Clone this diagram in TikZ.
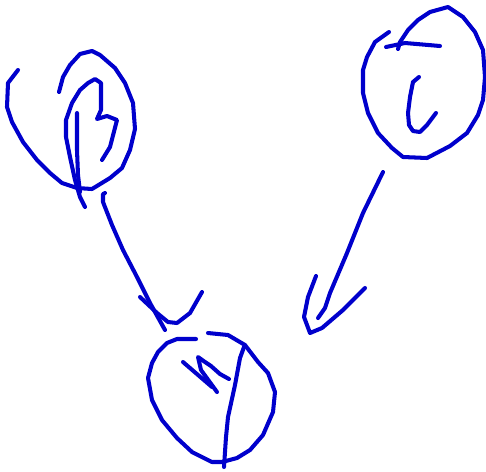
\documentclass[tikz,border=0pt]{standalone}
\usepackage{tikz}
\definecolor{inkblue}{HTML}{0000CC}
\tikzset{
  ink/.style={draw=inkblue,line width=2.3pt,line cap=round,line join=round},
}

\begin{document}
\begin{tikzpicture}[x=0.02cm,y=-0.02cm]
    \useasboundingbox (0,0) rectangle (486,471);
    % circle B
    \draw[ink] (18,70) -- (8,83) -- (7,107) -- (12,122) -- (23,142) -- (37,160) -- (50,173) -- (62,183) -- (77,188) -- (92,189) -- (110,178) -- (122,168) -- (130,150) -- (135,129) -- (133,103) -- (125,83) -- (115,68) -- (100,55) -- (92,51) -- (80,54) -- (70,65) -- (63,77) -- (59,92);
    \draw[ink] (102,160) -- (110,147) -- (117,120) -- (107,116) -- (97,119) -- (101,110) -- (101,83) -- (95,79) -- (88,83) -- (80,90) -- (72,103) -- (66,120) -- (66,137) -- (70,157) -- (75,180) -- (80,197) -- (85,207);
    \draw[ink] (77,113) -- (77,150) -- (78,175) -- (80,192);
    % circle C
    \draw[ink] (389,32) -- (375,42) -- (367,57) -- (363,70) -- (363,93) -- (368,113) -- (378,133) -- (392,148) -- (403,157) -- (427,158) -- (450,146) -- (467,133) -- (478,115) -- (483,100) -- (485,77) -- (483,50) -- (475,32) -- (463,17) -- (448,7) -- (430,12) -- (418,20) -- (408,30) -- (400,42) -- (398,49);
    \draw[ink] (386,47) -- (405,43) -- (440,46);
    \draw[ink] (419,77) -- (413,82) -- (410,97) -- (408,113) -- (409,125) -- (413,131) -- (420,132) -- (427,125) -- (436,113);
    % circle N
    \draw[ink] (196,339) -- (177,339) -- (167,343) -- (158,352) -- (152,363) -- (148,378) -- (152,400) -- (162,420) -- (177,438) -- (192,452) -- (212,462) -- (222,462) -- (237,458) -- (250,450) -- (263,435) -- (273,412) -- (275,392) -- (268,373) -- (258,362) -- (245,345) -- (228,335) -- (208,333);
    \draw[ink] (244,347) -- (240,358) -- (235,385) -- (228,417) -- (226,437) -- (224,467);
    \draw[ink] (183,362) -- (212,387);
    \draw[ink] (217,392) -- (201,370) -- (198,357) -- (205,362) -- (211,366) -- (220,374) -- (229,379);
    % arrow B to N
    \draw[ink] (105,193) -- (103,194) -- (103,202) -- (112,225) -- (123,250) -- (137,277) -- (150,303) -- (165,330);
    \draw[ink] (140,297) -- (157,313) -- (168,322) -- (177,323) -- (190,313) -- (202,292);
    % arrow C to N
    \draw[ink] (383,172) -- (363,213) -- (347,253) -- (330,293) -- (325,308) -- (318,318);
    \draw[ink] (316,276) -- (308,297) -- (304,317) -- (310,333) -- (322,328) -- (343,310) -- (365,288);
\end{tikzpicture}
\end{document}
